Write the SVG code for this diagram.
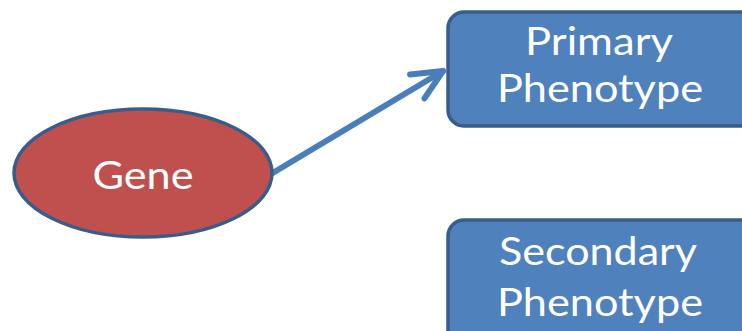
<svg xmlns="http://www.w3.org/2000/svg" width="742" height="331" viewBox="0 0 742 331">
<style>
.lbl{font-family:Lato,"Open Sans","Liberation Sans",sans-serif;font-size:39px;fill:#ffffff;text-anchor:middle}
.box{fill:#4F81BD;stroke:#385D8A;stroke-width:3.5}
.conn{stroke:#4A7EBB;stroke-width:6;fill:none;stroke-linecap:round;stroke-linejoin:round}
</style>
<defs>
<marker id="open" markerUnits="userSpaceOnUse" viewBox="-40 -20 50 40" refX="0" refY="0" markerWidth="50" markerHeight="40" orient="auto">
<path d="M-30,-14 L0,0 L-30,14" fill="none" stroke="#4A7EBB" stroke-width="6" stroke-linecap="round" stroke-linejoin="round"/>
</marker>
</defs>
<g id="connectors">
<path class="conn" d="M271,174 L443,71" marker-end="url(#open)"/>
</g>
<g id="gene">
<ellipse cx="143" cy="173" rx="129" ry="64" fill="#C0504D" stroke="#385D8A" stroke-width="3.5"/>
<text class="lbl" x="143" y="189" textLength="101" lengthAdjust="spacingAndGlyphs">Gene</text>
</g>
<g id="primary">
<rect class="box" x="448" y="12" width="310" height="114" rx="16"/>
<text class="lbl" x="599" y="55" textLength="148" lengthAdjust="spacingAndGlyphs">Primary</text>
<text class="lbl" x="600" y="102" textLength="206" lengthAdjust="spacingAndGlyphs">Phenotype</text>
</g>
<g id="secondary">
<rect class="box" x="448" y="220" width="310" height="130" rx="16"/>
<text class="lbl" x="598" y="265" textLength="198" lengthAdjust="spacingAndGlyphs">Secondary</text>
<text class="lbl" x="600" y="316" textLength="206" lengthAdjust="spacingAndGlyphs">Phenotype</text>
</g>
</svg>
